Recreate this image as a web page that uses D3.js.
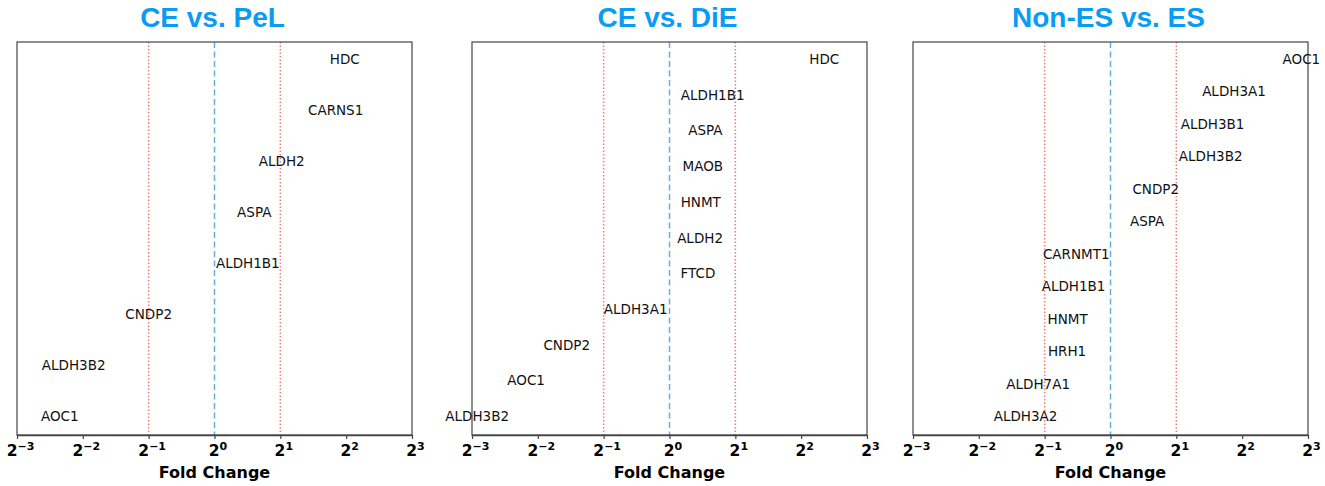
<!DOCTYPE html>
<html>
<head>
<meta charset="utf-8">
<script src="https://cdn.jsdelivr.net/npm/d3@7"></script>
<style>
  body { margin: 0; background: #fff; }
  .title { font-family: "Liberation Sans", Arial, sans-serif; font-weight: bold; font-size: 28px; fill: #0a9cf2; }
  .gene { font-family: "DejaVu Sans", sans-serif; font-size: 13.5px; fill: #111; }
  .tick text { font-family: "DejaVu Sans", sans-serif; font-weight: bold; font-size: 15.5px; fill: #000; }
  .xlabel { font-family: "DejaVu Sans", sans-serif; font-weight: bold; font-size: 16px; fill: #000; }
</style>
</head>
<body>
<script>
var panelTitles = ["CE vs. PeL", "CE vs. DiE", "Non-ES vs. ES"];

// genes listed top to bottom, fold change
var genesPeL = ["HDC", "CARNS1", "ALDH2", "ASPA", "ALDH1B1", "CNDP2", "ALDH3B2", "AOC1"];
var foldPeL  = [3.94, 3.58, 2.03, 1.52, 1.42, 0.50, 0.227, 0.196];

var genesDiE = ["HDC", "ALDH1B1", "ASPA", "MAOB", "HNMT", "ALDH2", "FTCD", "ALDH3A1", "CNDP2", "AOC1", "ALDH3B2"];
var foldDiE  = [5.10, 1.575, 1.46, 1.42, 1.39, 1.38, 1.35, 0.70, 0.339, 0.221, 0.132];

var genesES = ["AOC1", "ALDH3A1", "ALDH3B1", "ALDH3B2", "CNDP2", "ASPA", "CARNMT1", "ALDH1B1", "HNMT", "HRH1", "ALDH7A1", "ALDH3A2"];
var foldES  = [7.46, 3.67, 2.93, 2.87, 1.61, 1.47, 0.697, 0.678, 0.637, 0.633, 0.467, 0.409];

var tickExponents = [-3, -2, -1, 0, 1, 2, 3];
var thresholdLines = [0.5, 1, 2];

var width = 1325, height = 486;
var panelLeft = [17, 472, 913],
    panelWidth = 395,
    plotTop = 42,
    plotBottom = 435;

var svg = d3.select("body").append("svg")
    .attr("width", width)
    .attr("height", height);

var panels = [
  { title: panelTitles[0], genes: genesPeL, fold: foldPeL },
  { title: panelTitles[1], genes: genesDiE, fold: foldDiE },
  { title: panelTitles[2], genes: genesES, fold: foldES }
];

var drawPanel = function(p, i) {
  var x0 = panelLeft[i];
  var x = d3.scaleLog().base(2)
      .domain([1 / 8, 8])
      .range([x0, x0 + panelWidth]);

  var y = d3.scalePoint()
      .domain(p.genes)
      .range([plotTop + 17, plotBottom - 19]);

  var g = svg.append("g");

  // reference lines
  g.selectAll("line.ref")
      .data(thresholdLines)
    .enter().append("line")
      .attr("class", "ref")
      .attr("x1", function(d) { return x(d); })
      .attr("x2", function(d) { return x(d); })
      .attr("y1", plotTop)
      .attr("y2", plotBottom)
      .attr("stroke", function(d) { return d === 1 ? "#6aaee0" : "#f27b7b"; })
      .attr("stroke-width", function(d) { return d === 1 ? 1.5 : 1.5; })
      .attr("stroke-dasharray", function(d) { return d === 1 ? "6,3.5" : "1.5,2"; });

  g.append("rect")
      .attr("x", x0)
      .attr("y", plotTop)
      .attr("width", panelWidth)
      .attr("height", plotBottom - plotTop)
      .attr("fill", "none")
      .attr("stroke", "#444")
      .attr("stroke-width", 1.2);

  var axis = d3.axisBottom(x)
      .tickValues(tickExponents.map(function(e) { return Math.pow(2, e); }))
      .tickSize(4)
      .tickSizeOuter(0)
      .tickFormat("");

  var ax = g.append("g")
      .attr("transform", "translate(0," + plotBottom + ")")
      .call(axis);
  ax.select(".domain").attr("stroke", "#444").attr("stroke-width", 1.4);
  ax.selectAll(".tick line").attr("stroke", "#444").attr("stroke-width", 1.2);

  ax.selectAll(".tick text")
      .attr("y", 21)
      .attr("dy", null)
      .each(function(d) {
        var t = d3.select(this);
        var e = Math.round(Math.log2(d));
        t.append("tspan").text("2");
        t.append("tspan")
            .attr("dy", -6.5)
            .style("font-size", "11px")
            .text(e < 0 ? "\u2212" + (-e) : String(e));
      })
      .attr("dx", 3);

  g.append("text")
      .attr("class", "xlabel")
      .attr("x", x0 + panelWidth / 2)
      .attr("y", 478)
      .attr("text-anchor", "middle")
      .text("Fold Change");

  g.append("text")
      .attr("class", "title")
      .attr("x", x0 + panelWidth / 2 - 2)
      .attr("y", 27)
      .attr("text-anchor", "middle")
      .text(p.title);

  g.selectAll("text.gene")
      .data(p.genes)
    .enter().append("text")
      .attr("class", "gene")
      .attr("x", function(d, j) { return x(p.fold[j]); })
      .attr("y", function(d) { return y(d); })
      .attr("text-anchor", "middle")
      .attr("dominant-baseline", "central")
      .text(function(d) { return d; });
};

panels.forEach(drawPanel);
</script>
</body>
</html>
